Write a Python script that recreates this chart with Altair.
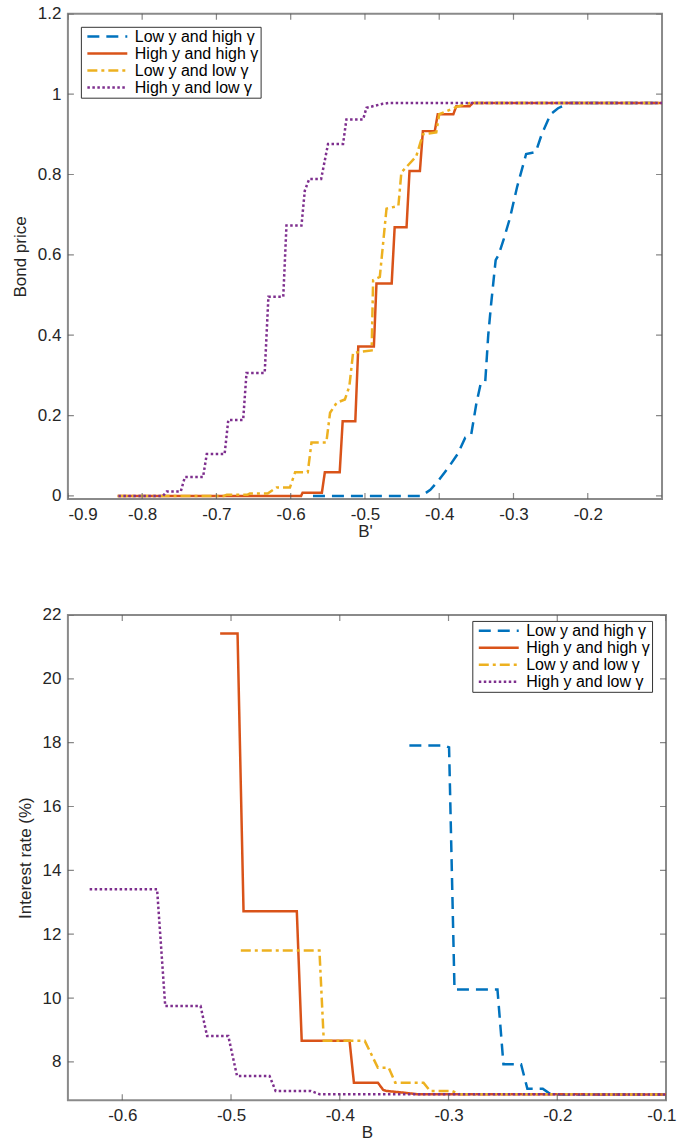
import altair as alt
import pandas as pd

# ---------------- data ----------------
SERIES = ["Low y and high γ", "High y and high γ", "Low y and low γ", "High y and low γ"]
COLORS = ["#0072BD", "#D95319", "#EDB120", "#7E2F8E"]
DASHES = [[12, 7], [1, 0], [10, 4, 3, 4], [2.5, 2.5]]

# Top panel: bond price vs B'
price_lowy_highg_x = [-0.570, -0.424, -0.412, -0.401, -0.392, -0.386, -0.375, -0.365, -0.357, -0.350,
                      -0.344, -0.338, -0.334, -0.330, -0.324, -0.320, -0.313, -0.305, -0.295, -0.283,
                      -0.270, -0.262, -0.250, -0.240, -0.225, -0.100]
price_lowy_highg_y = [0.000, 0.000, 0.015, 0.038, 0.060, 0.075, 0.105, 0.145, 0.152, 0.230,
                      0.281, 0.285, 0.400, 0.480, 0.587, 0.600, 0.640, 0.690, 0.770, 0.851,
                      0.856, 0.900, 0.950, 0.965, 0.978, 0.978]

price_highy_highg_x = [-0.833, -0.586, -0.584, -0.558, -0.554, -0.534, -0.530, -0.513, -0.509, -0.488,
                       -0.4845, -0.464, -0.460, -0.444, -0.440, -0.426, -0.422, -0.406, -0.402, -0.381,
                       -0.377, -0.359, -0.355, -0.100]
price_highy_highg_y = [0.000, 0.000, 0.008, 0.008, 0.059, 0.059, 0.186, 0.186, 0.372, 0.372,
                       0.529, 0.529, 0.669, 0.669, 0.809, 0.809, 0.908, 0.908, 0.950, 0.950,
                       0.970, 0.970, 0.978, 0.978]

price_lowy_lowg_x = [-0.833, -0.690, -0.686, -0.658, -0.655, -0.631, -0.619, -0.601, -0.594, -0.577,
                     -0.572, -0.552, -0.547, -0.538, -0.527, -0.521, -0.516, -0.491, -0.489, -0.480,
                     -0.471, -0.455, -0.451, -0.431, -0.422, -0.404, -0.400, -0.377, -0.359, -0.100]
price_lowy_lowg_y = [0.000, 0.000, 0.003, 0.003, 0.006, 0.006, 0.021, 0.021, 0.059, 0.059,
                     0.133, 0.133, 0.207, 0.232, 0.240, 0.273, 0.356, 0.362, 0.537, 0.545,
                     0.715, 0.722, 0.805, 0.845, 0.900, 0.905, 0.950, 0.968, 0.978, 0.978]

price_highy_lowg_x = [-0.832, -0.772, -0.767, -0.748, -0.7425, -0.718, -0.713, -0.689, -0.684, -0.664,
                      -0.6595, -0.635, -0.630, -0.610, -0.6057, -0.5855, -0.581, -0.575, -0.559, -0.5497,
                      -0.5295, -0.525, -0.5025, -0.498, -0.476, -0.468, -0.100]
price_highy_lowg_y = [0.000, 0.000, 0.011, 0.011, 0.047, 0.047, 0.104, 0.104, 0.189, 0.189,
                      0.306, 0.306, 0.496, 0.496, 0.673, 0.673, 0.760, 0.789, 0.789, 0.876,
                      0.876, 0.937, 0.937, 0.966, 0.976, 0.978, 0.978]

# Bottom panel: interest rate (%) vs B
rate_lowy_highg_x = [-0.336, -0.304, -0.2995, -0.2945, -0.255, -0.2495, -0.2333, -0.2275, -0.2133, -0.208, -0.200, -0.100]
rate_lowy_highg_y = [17.91, 17.91, 17.85, 10.27, 10.27, 7.93, 7.93, 7.16, 7.16, 7.03, 6.98, 6.98]

rate_highy_highg_x = [-0.510, -0.494, -0.4885, -0.4395, -0.435, -0.391, -0.387, -0.365, -0.360, -0.357, -0.345, -0.329, -0.100]
rate_highy_highg_y = [21.42, 21.42, 12.72, 12.72, 8.66, 8.66, 7.35, 7.35, 7.12, 7.09, 7.05, 6.99, 6.98]

rate_lowy_lowg_x = [-0.491, -0.4187, -0.4147, -0.377, -0.365, -0.355, -0.349, -0.323, -0.317, -0.297, -0.290, -0.100]
rate_lowy_lowg_y = [11.49, 11.49, 8.66, 8.66, 7.82, 7.82, 7.35, 7.35, 7.09, 7.09, 6.99, 6.98]

rate_highy_lowg_x = [-0.630, -0.568, -0.5605, -0.528, -0.522, -0.5025, -0.4945, -0.4646, -0.459, -0.4266, -0.4187, -0.100]
rate_highy_lowg_y = [13.41, 13.41, 9.75, 9.75, 8.81, 8.81, 7.56, 7.56, 7.09, 7.09, 6.99, 6.98]

# axes
TOP_XDOM = [-0.9, -0.1]
TOP_YDOM = [-0.008, 1.2]
TOP_XTICKS = [-0.9, -0.8, -0.7, -0.6, -0.5, -0.4, -0.3, -0.2]
TOP_YTICKS = [0, 0.2, 0.4, 0.6, 0.8, 1.0, 1.2]

BOT_XDOM = [-0.65, -0.1]
BOT_YDOM = [6.8, 22]
BOT_XTICKS = [-0.6, -0.5, -0.4, -0.3, -0.2, -0.1]
BOT_YTICKS = [8, 10, 12, 14, 16, 18, 20, 22]

FONT = "Liberation Sans"
TXT = "#262626"


def series_frame(xs_list, ys_list):
    rows = []
    for name, xs, ys in zip(SERIES, xs_list, ys_list):
        for i, (x, y) in enumerate(zip(xs, ys)):
            rows.append({"x": x, "y": y, "series": name, "idx": i})
    return pd.DataFrame(rows)


def panel(df, xdom, ydom, xticks, yticks, xtitle, ytitle, ylabel_expr,
          width, height, legend_x, legend_y, flush):
    xscale = alt.Scale(domain=xdom, nice=False, zero=False)
    yscale = alt.Scale(domain=ydom, nice=False, zero=False)
    xaxis_kw = dict(values=xticks, title=xtitle,
                    labelExpr="(datum.value < 0 ? '-' : '') + format(abs(datum.value), '.1f')",
                    ticks=False, domain=False, grid=False,
                    labelFont=FONT, labelFontSize=17, labelColor=TXT, labelPadding=7,
                    titleFont=FONT, titleFontSize=17, titleFontWeight="normal", titleColor=TXT,
                    titlePadding=1, labelOverlap=False)
    if flush:
        xaxis_kw.update(labelFlush=True, labelFlushOffset=10)
    xaxis = alt.Axis(**xaxis_kw)
    yaxis = alt.Axis(values=yticks, title=ytitle, labelExpr=ylabel_expr,
                     ticks=False, domain=False, grid=False,
                     labelFont=FONT, labelFontSize=17, labelColor=TXT, labelPadding=7,
                     titleFont=FONT, titleFontSize=17, titleFontWeight="normal", titleColor=TXT,
                     titlePadding=8, labelOverlap=False)
    legend = alt.Legend(orient="none", legendX=legend_x, legendY=legend_y, title=None,
                        symbolType="stroke", symbolSize=1600, symbolStrokeWidth=2.5,
                        clipHeight=15.6, rowPadding=0, padding=2,
                        labelFont=FONT, labelFontSize=16, labelColor="#000", labelLimit=400,
                        symbolOffset=3, labelOffset=6,
                        strokeColor="#333333", fillColor="white")
    X = alt.X("x:Q", scale=xscale, axis=xaxis)
    Y = alt.Y("y:Q", scale=yscale, axis=yaxis)
    layers = []
    for s in SERIES:
        layers.append(
            alt.Chart(df).transform_filter(alt.datum.series == s)
            .mark_line(strokeWidth=2.5, clip=True)
            .encode(
                x=X, y=Y,
                color=alt.Color("series:N", scale=alt.Scale(domain=SERIES, range=COLORS), legend=legend),
                strokeDash=alt.StrokeDash("series:N", scale=alt.Scale(domain=SERIES, range=DASHES), legend=legend),
                order="idx:Q",
            )
        )
    # inward tick marks on all four sides (clipped half of a centred tick)
    vt = pd.DataFrame([{"x": t, "y": e} for t in xticks for e in ydom])
    ht = pd.DataFrame([{"x": e, "y": t} for t in yticks for e in xdom])
    layers.append(alt.Chart(vt).mark_tick(orient="vertical", size=12, thickness=1.2,
                                          color="#555555", clip=True).encode(x=X, y=Y))
    layers.append(alt.Chart(ht).mark_tick(orient="horizontal", size=12, thickness=1.2,
                                          color="#555555", clip=True).encode(x=X, y=Y))
    return alt.layer(*layers).properties(width=width, height=height)


top_df = series_frame([price_lowy_highg_x, price_highy_highg_x, price_lowy_lowg_x, price_highy_lowg_x],
                      [price_lowy_highg_y, price_highy_highg_y, price_lowy_lowg_y, price_highy_lowg_y])
bot_df = series_frame([rate_lowy_highg_x, rate_highy_highg_x, rate_lowy_lowg_x, rate_highy_lowg_x],
                      [rate_lowy_highg_y, rate_highy_highg_y, rate_lowy_lowg_y, rate_highy_lowg_y])

top = panel(top_df, TOP_XDOM, TOP_YDOM, TOP_XTICKS, TOP_YTICKS, "B'", "Bond price",
            "format(datum.value, '~g')", 595, 486, 13, 13, False)
bottom = panel(bot_df, BOT_XDOM, BOT_YDOM, BOT_XTICKS, BOT_YTICKS, "B", "Interest rate (%)",
               "format(datum.value, 'd')", 599, 486, 405, 6, True)

chart = (
    alt.vconcat(top, bottom, spacing=116, bounds="flush")
    .resolve_scale(x="independent", y="independent", color="independent", strokeDash="independent")
    .resolve_legend(color="independent", strokeDash="independent")
    .properties(padding={"left": 10, "top": 3, "right": 0, "bottom": 0}, background="white")
    .configure_view(stroke="#8a8a8a", strokeWidth=2)
)

chart.save("out.html", embed_options={"renderer": "svg", "actions": False})
